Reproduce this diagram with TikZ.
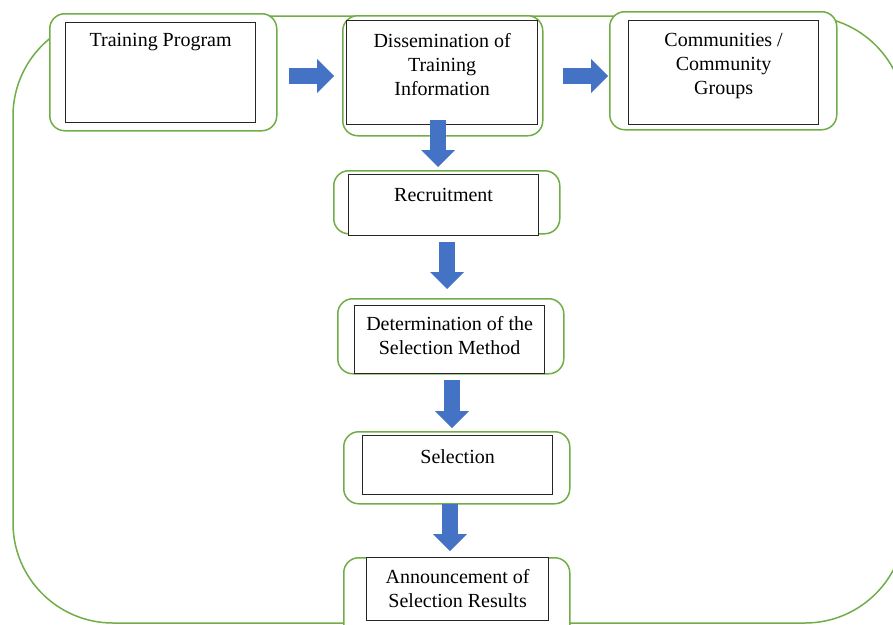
\documentclass[tikz,border=0pt]{standalone}
\usepackage{fontspec}
\setmainfont{Liberation Serif}
\usetikzlibrary{positioning,arrows.meta}
\definecolor{framegreen}{HTML}{70AD47}
\definecolor{arrowblue}{HTML}{4472C4}
\tikzset{
  greenbox/.style={draw=framegreen, line width=1.5pt, fill=white, rounded corners=15pt, anchor=north west, inner sep=0pt},
  blackbox/.style={draw=black!85, line width=1.2pt, fill=white, anchor=north west, inner sep=0pt},
  boxtext/.style={align=center, inner sep=0pt, font=\fontsize{20}{24}\selectfont},
  blockarrow/.style={arrowblue, line width=16pt, -{Triangle[width=34pt,length=17pt,line width=0pt]}}
}
\begin{document}
\begin{tikzpicture}[x=1pt,y=-1pt]
				\useasboundingbox (0,0) rectangle (893,624);
				\clip (0,0) rectangle (893,624);
				
				% outer frame
				\draw[framegreen, line width=1.5pt, rounded corners=100pt] (13,16) rectangle (905,623);
				
				% top row
				\node[greenbox, minimum width=227, minimum height=117] (g1) at (49,13) {};
				\node[blackbox, minimum width=190, minimum height=100] (b1) at (65,22) {};
				\node[boxtext, below=11.5pt of b1.north] (t1) {Training Program};
				
				\node[greenbox, minimum width=200, minimum height=120] (g2) at (342,15) {};
				\node[blackbox, minimum width=191, minimum height=104] (b2) at (346,20) {};
				\node[boxtext, below=13.5pt of b2.north] (t2) {Dissemination of\\Training\\Information};
				
				\node[greenbox, minimum width=227, minimum height=118] (g3) at (609,11) {};
				\node[blackbox, minimum width=190, minimum height=104] (b3) at (628,20) {};
				\node[boxtext, below=13.5pt of b3.north] (t3) {Communities /\\Community\\Groups};
				
				% column
				\node[greenbox, minimum width=226, minimum height=63] (g4) at (333,170) {};
				\node[blackbox, minimum width=190, minimum height=61] (b4) at (348,174) {};
				\node[boxtext, below=14.5pt of b4.north] (t4) {Recruitment};
				
				\node[greenbox, minimum width=226, minimum height=75] (g5) at (337,298) {};
				\node[blackbox, minimum width=190, minimum height=68] (b5) at (354,305) {};
				\node[boxtext, below=11.5pt of b5.north] (t5) {Determination of the\\Selection Method};
				
				\node[greenbox, minimum width=226, minimum height=72] (g6) at (343,431) {};
				\node[blackbox, minimum width=190, minimum height=59] (b6) at (362,435) {};
				\node[boxtext, below=14.5pt of b6.north] (t6) {Selection};
				
				\node[greenbox, minimum width=226, minimum height=93] (g7) at (343,557) {};
				\node[blackbox, minimum width=182, minimum height=63] (b7) at (366,557) {};
				\node[boxtext, below=12.5pt of b7.north] (t7) {Announcement of\\Selection Results};
				
				% block arrows
				\coordinate (r1s) at (289,76);  \coordinate (r1e) at (334,76);
				\coordinate (r2s) at (563,76);  \coordinate (r2e) at (608,76);
				\coordinate (d1s) at (438,120); \coordinate (d1e) at (438,167);
				\coordinate (d2s) at (447,242); \coordinate (d2e) at (447,289);
				\coordinate (d3s) at (452,380); \coordinate (d3e) at (452,428);
				\coordinate (d4s) at (450,504); \coordinate (d4e) at (450,551);
				
				\draw[blockarrow] (r1s) -- (r1e);
				\draw[blockarrow] (r2s) -- (r2e);
				\draw[blockarrow] (d1s) -- (d1e);
				\draw[blockarrow] (d2s) -- (d2e);
				\draw[blockarrow] (d3s) -- (d3e);
				\draw[blockarrow] (d4s) -- (d4e);
\end{tikzpicture}
\end{document}
